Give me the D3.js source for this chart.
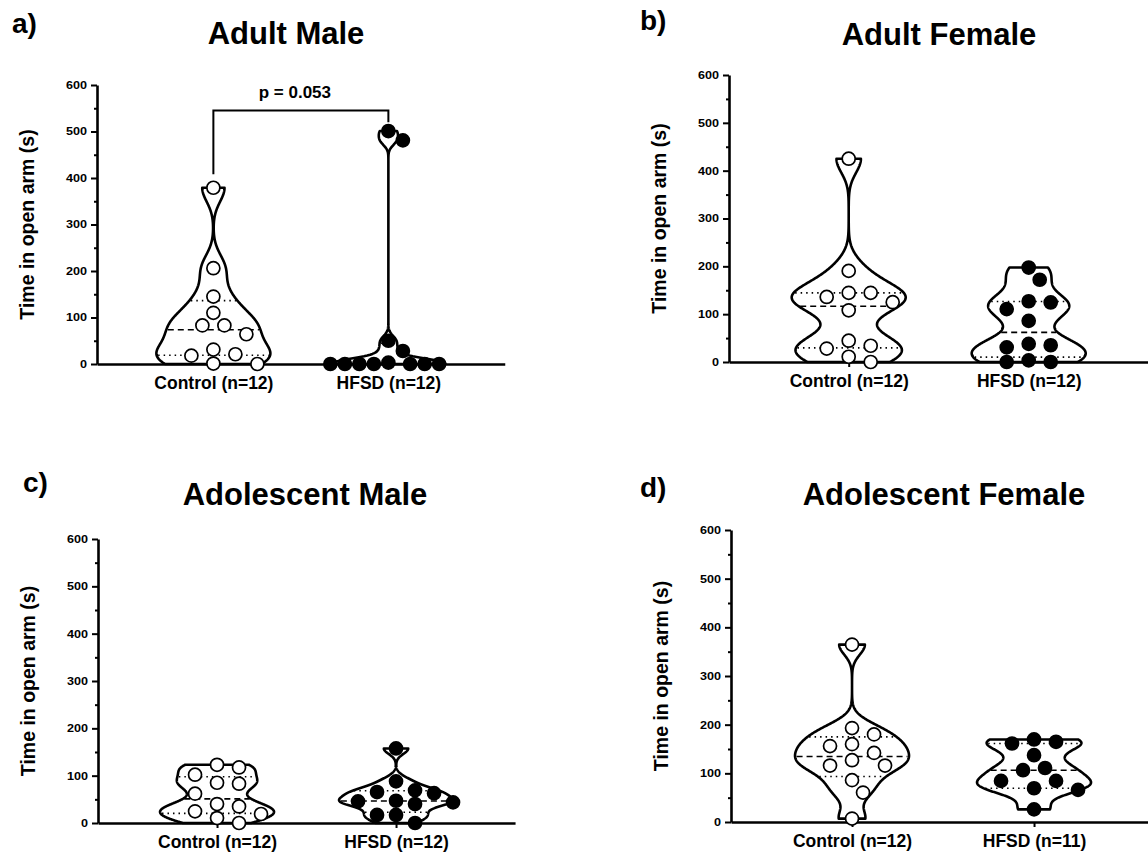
<!DOCTYPE html>
<html>
<head>
<meta charset="utf-8">
<script src="https://cdn.jsdelivr.net/npm/d3@7"></script>
<style>
  html, body { margin: 0; padding: 0; background: #fff; }
  svg { display: block; font-family: "Liberation Sans", Arial, sans-serif; font-weight: bold; }
</style>
</head>
<body>
<svg id="chart" width="1148" height="855"></svg>
<script>
// ---------------- DATA ----------------
const groups = ["Control", "HFSD"];
const yTickValues = [0, 100, 200, 300, 400, 500, 600];
const yMinorTicks = [50, 150, 250, 350, 450, 550];
const yTitle = "Time in open arm (s)";

const panelLetters = ["a)", "b)", "c)", "d)"];
const panelTitles = ["Adult Male", "Adult Female", "Adolescent Male", "Adolescent Female"];

const labelsA = ["Control (n=12)", "HFSD (n=12)"];
const labelsB = ["Control (n=12)", "HFSD (n=12)"];
const labelsC = ["Control (n=12)", "HFSD (n=12)"];
const labelsD = ["Control (n=12)", "HFSD (n=11)"];

const adultMaleControl = [379, 206, 145, 110, 83, 83, 64, 31, 21, 18, 0, 1];
const adultMaleHFSD = [501, 481, 50, 28, 0, 3, 0, 0, 0, 0, 0, 0];
const adultFemaleControl = [425, 190.5, 144.6, 144.6, 136, 125, 108, 44.5, 28, 34, 11, 0];
const adultFemaleHFSD = [197.5, 172, 124.5, 127, 110.6, 86, 38, 35, 30.6, 0, 3.5, 0];
const adolMaleControl = [123, 117.4, 102, 83, 85, 62, 40, 35, 24.6, 19, 10.5, 0];
const adolMaleHFSD = [157.5, 88, 63, 65.4, 69, 47, 43.6, 40, 45.7, 17, 17, 0];
const adolFemaleControl = [364.5, 193, 180, 156, 160, 127, 142, 116, 116, 86, 60.4, 7];
const adolFemaleHFSD = [164.8, 169.6, 161.3, 137.3, 111, 106.4, 84.4, 84.4, 69.3, 66, 26];

// significance annotation for panel a (data units)
const sigText = "p = 0.053";
const sigBracket = { top: 545, leftEnd: 408, rightEnd: 520 };

// ---------------- LAYOUT ----------------
const layouts = [
  { x0: 97,  step: 175, yBottom: 364, yTop: 85,
    letter: [12, 33], title: [286, 44] },
  { x0: 729, step: 180, yBottom: 362, yTop: 75,
    letter: [640, 30], title: [939, 45] },
  { x0: 98,  step: 179, yBottom: 823, yTop: 539,
    letter: [23, 492], title: [305, 505] },
  { x0: 731, step: 182, yBottom: 822, yTop: 530,
    letter: [640, 497], title: [944, 505] }
];
const panelData = [
  [adultMaleControl, adultMaleHFSD],
  [adultFemaleControl, adultFemaleHFSD],
  [adolMaleControl, adolMaleHFSD],
  [adolFemaleControl, adolFemaleHFSD]
];
const panelLabels = [labelsA, labelsB, labelsC, labelsD];

const PAD = 0.665;
const MAX_HALF = 57;
const R = 6.5;

const svg = d3.select("#chart");

function quantile(sorted, p) {
  const n = sorted.length;
  let pos = p * (n + 1);
  if (pos < 1) pos = 1;
  if (pos > n) pos = n;
  const lo = Math.floor(pos), hi = Math.ceil(pos);
  const f = pos - lo;
  return sorted[lo - 1] + f * (sorted[hi - 1] - sorted[lo - 1]);
}

function bandwidth(vals) {
  const s = vals.slice().sort((a, b) => a - b);
  const sd = d3.deviation(vals);
  const iqr = quantile(s, 0.75) - quantile(s, 0.25);
  let m = Math.min(sd, iqr / 1.34);
  if (!(m > 0)) m = sd;
  return 0.62 * 0.9 * m * Math.pow(vals.length, -0.2);
}

function kde(vals, h) {
  return v => d3.sum(vals, x => Math.exp(-0.5 * ((v - x) / h) ** 2));
}

// greedy swarm with elliptical collision; pitch shrinks if spread too wide
function swarm(vals, y, cx) {
  const idx = vals.map((v, i) => i).sort((a, b) => vals[b] - vals[a]);
  const minDy = 13.5, maxSpread = 58;
  let best = null;
  for (let p = 22; p >= 13; p -= 0.5) {
    const stepX = p / 2, minDx = p * 0.95;
    const placed = [];
    const out = new Array(vals.length);
    let maxOff = 0;
    idx.forEach(i => {
      const py = y(vals[i]);
      for (let k = 0; k < 80; k++) {
        const m = Math.ceil(k / 2) * (k % 2 === 1 ? 1 : -1);
        const off = m * stepX;
        const px = cx + off;
        const ok = placed.every(q => ((q[0] - px) / minDx) ** 2 + ((q[1] - py) / minDy) ** 2 >= 1);
        if (ok) {
          placed.push([px, py]); out[i] = [px, py];
          maxOff = Math.max(maxOff, Math.abs(off));
          break;
        }
      }
    });
    best = out;
    if (maxOff <= maxSpread) break;
  }
  return best;
}

layouts.forEach((L, pi) => {
  const g = svg.append("g");
  const x1 = L.x0 + L.step * (1 + 2 * PAD);
  const x = d3.scalePoint().domain(groups).range([L.x0, x1]).padding(PAD);
  const y = d3.scaleLinear().domain([0, 600]).range([L.yBottom, L.yTop]);

  // panel letter and title
  g.append("text").attr("x", L.letter[0]).attr("y", L.letter[1])
    .attr("font-size", 28).text(panelLetters[pi]);
  g.append("text").attr("x", L.title[0]).attr("y", L.title[1])
    .attr("font-size", 31).attr("text-anchor", "middle").text(panelTitles[pi]);

  // y axis title
  g.append("text")
    .attr("transform", `translate(${L.x0 - 70},${(L.yBottom + L.yTop) / 2}) rotate(-90)`)
    .attr("text-anchor", "middle").attr("dominant-baseline", "central")
    .attr("font-size", 19.5).text(yTitle);

  // violins
  panelData[pi].forEach((vals, gi) => {
    const cx = x(groups[gi]);
    const h = bandwidth(vals);
    const dens = kde(vals, h);
    const mn = d3.min(vals), mx = d3.max(vals);
    const N = 300;
    const grid = d3.range(N + 1).map(i => mn + (mx - mn) * i / N);
    const pts = grid.map(v => ({ v, d: dens(v) }));
    const maxD = d3.max(pts, p => p.d);
    const w = d => d / maxD * MAX_HALF;

    const area = d3.area()
      .y(p => y(p.v))
      .x0(p => cx - w(p.d))
      .x1(p => cx + w(p.d));
    g.append("path").datum(pts).attr("d", area)
      .attr("fill", "#fff").attr("stroke", "#000")
      .attr("stroke-width", 2.6).attr("stroke-linejoin", "round");

    const s = vals.slice().sort((a, b) => a - b);
    const qs = [
      { v: quantile(s, 0.25), dash: "1.5,4" },
      { v: quantile(s, 0.5), dash: "6,4" },
      { v: quantile(s, 0.75), dash: "1.5,4" }
    ];
    qs.forEach(q => {
      const hw = w(dens(q.v)) - 1.5;
      g.append("line")
        .attr("x1", cx - hw).attr("x2", cx + hw)
        .attr("y1", y(q.v)).attr("y2", y(q.v))
        .attr("stroke", "#000").attr("stroke-width", 1.6)
        .attr("stroke-dasharray", q.dash);
    });
  });

  // axes
  const yAxis = d3.axisLeft(y).tickValues(yTickValues).tickSize(6).tickSizeOuter(0).tickPadding(4);
  const ya = g.append("g").attr("transform", `translate(${L.x0},0)`).call(yAxis);
  ya.select(".domain").attr("stroke-width", 2.6);
  ya.selectAll(".tick line").attr("stroke-width", 2);
  ya.selectAll(".tick text")
    .attr("font-size", 10.5).attr("font-weight", "bold")
    .attr("font-family", '"Liberation Sans", Arial, sans-serif')
    .attr("x", -10 / 1.2).attr("transform", "scale(1.2,1)");
  const yMinor = d3.axisLeft(y).tickValues(yMinorTicks).tickSize(3).tickSizeOuter(0).tickFormat("");
  const ym = g.append("g").attr("transform", `translate(${L.x0},0)`).call(yMinor);
  ym.select(".domain").remove();
  ym.selectAll(".tick line").attr("stroke-width", 2);

  const xAxis = d3.axisBottom(x).tickSize(5).tickSizeOuter(0)
    .tickFormat((d, i) => panelLabels[pi][i]);
  const xa = g.append("g").attr("transform", `translate(0,${L.yBottom})`).call(xAxis);
  xa.select(".domain").attr("stroke-width", 2.6);
  xa.selectAll(".tick line").attr("stroke-width", 2);
  xa.selectAll(".tick text")
    .attr("font-size", 17.5).attr("font-weight", "bold")
    .attr("font-family", '"Liberation Sans", Arial, sans-serif')
    .attr("y", 25).attr("dy", 0);

  // points
  panelData[pi].forEach((vals, gi) => {
    const cx = x(groups[gi]);
    const pos = swarm(vals, y, cx);
    g.append("g").selectAll("circle").data(vals).join("circle")
      .attr("cx", (d, i) => pos[i][0])
      .attr("cy", (d, i) => pos[i][1])
      .attr("r", R)
      .attr("fill", gi === 0 ? "#fff" : "#000")
      .attr("stroke", "#000").attr("stroke-width", 1.7);
  });

  // significance bracket (panel a)
  if (pi === 0) {
    const xl = x(groups[0]), xr = x(groups[1]);
    const path = d3.path();
    path.moveTo(xl, y(sigBracket.leftEnd));
    path.lineTo(xl, y(sigBracket.top));
    path.lineTo(xr, y(sigBracket.top));
    path.lineTo(xr, y(sigBracket.rightEnd));
    g.append("path").attr("d", path.toString()).attr("fill", "none")
      .attr("stroke", "#000").attr("stroke-width", 2);
    g.append("text").attr("x", (xl + xr) / 2 - 6).attr("y", y(sigBracket.top) - 13)
      .attr("text-anchor", "middle").attr("font-size", 17).text(sigText);
  }
});
</script>
</body>
</html>
